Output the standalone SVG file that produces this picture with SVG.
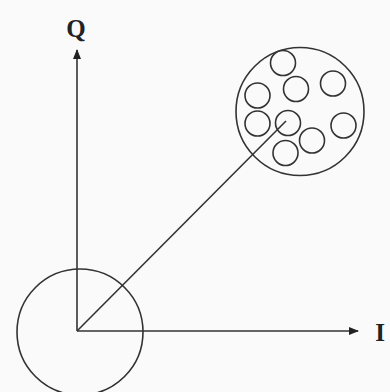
<svg xmlns="http://www.w3.org/2000/svg" width="390" height="392" viewBox="0 0 390 392">
<style>
.s{fill:none;stroke:#333;stroke-width:1.6}
.t{font-family:"Liberation Serif",serif;font-weight:bold;font-size:25px;fill:#222}
</style>
<defs>
<marker id="ah" markerWidth="10" markerHeight="8" refX="9" refY="4" orient="auto" markerUnits="userSpaceOnUse">
<path d="M0,0 L10,4 L0,8 Z" fill="#222"/>
</marker>
</defs>
<rect width="390" height="392" fill="#fafafa"/>
<g id="connectors">
<line class="s" x1="77" y1="331" x2="77" y2="50" marker-end="url(#ah)"/>
<line class="s" x1="77" y1="331" x2="358" y2="331" marker-end="url(#ah)"/>
<line class="s" x1="77" y1="331" x2="286" y2="121"/>
</g>
<g id="origin-circle"><circle class="s" cx="80" cy="332" r="63"/></g>
<g id="cluster">
<circle class="s" cx="300" cy="111.5" r="64"/>
<circle class="s" cx="283" cy="63" r="12.5"/>
<circle class="s" cx="296" cy="89" r="12.5"/>
<circle class="s" cx="333" cy="83.5" r="12.5"/>
<circle class="s" cx="257.5" cy="95.5" r="12.5"/>
<circle class="s" cx="257.5" cy="123.5" r="12.5"/>
<circle class="s" cx="288" cy="123" r="12.5"/>
<circle class="s" cx="343.5" cy="125.5" r="12.5"/>
<circle class="s" cx="312" cy="140.5" r="12.5"/>
<circle class="s" cx="285.5" cy="153" r="12.5"/>
</g>
<g id="label-Q"><text class="t" x="76" y="37" text-anchor="middle">Q</text></g>
<g id="label-I"><text class="t" x="380" y="341" text-anchor="middle">I</text></g>
</svg>
